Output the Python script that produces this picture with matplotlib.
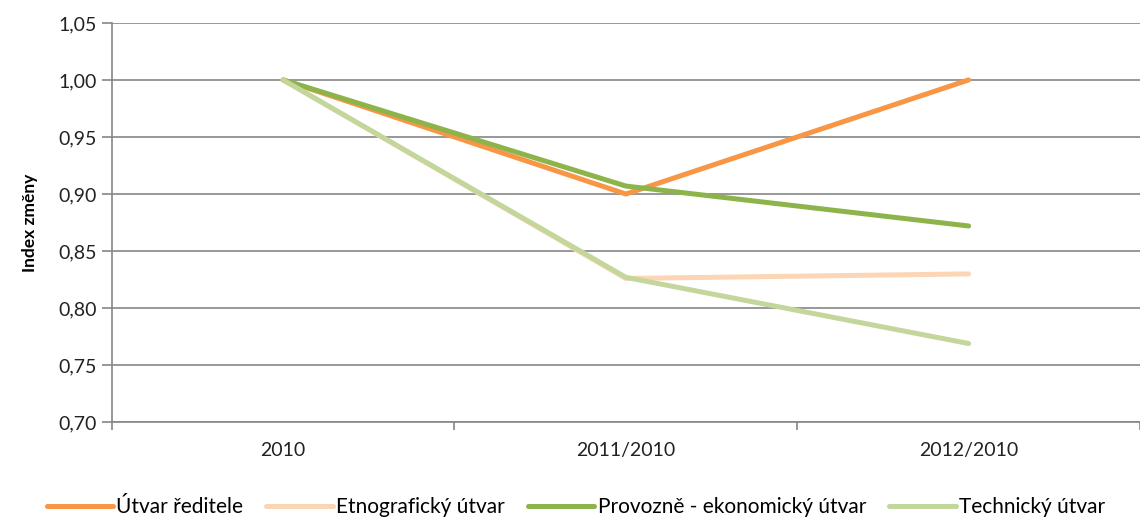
import numpy as np
import matplotlib.pyplot as plt
from matplotlib.ticker import FixedLocator, FuncFormatter

plt.rcParams['font.family'] = ['Lato', 'DejaVu Sans']

kategorie = ["2010", "2011/2010", "2012/2010"]
utvar_reditele = [1.00, 0.900, 1.000]
etnograficky = [1.00, 0.826, 0.830]
provozne = [1.00, 0.907, 0.872]
technicky = [1.00, 0.827, 0.769]

nazvy = ["Útvar ředitele", "Etnografický útvar",
         "Provozně - ekonomický útvar", "Technický útvar"]
barvy = ["#F79646", "#FCD5B5", "#8CB44A", "#C3D69B"]
rady = [utvar_reditele, etnograficky, provozne, technicky]

fig = plt.figure(figsize=(11.4, 5.2), dpi=100)
ax = fig.add_axes([0.098, 0.188, 0.902, 0.768])

x = np.arange(len(kategorie))
for r, nazev, c in zip(rady, nazvy, barvy):
    ax.plot(x, r, color=c, lw=3.6, label=nazev, solid_capstyle='round')

ax.set_xlim(-0.5, 2.5)
ax.set_ylim(0.70, 1.05)
ax.set_yticks(np.arange(0.70, 1.051, 0.05))
ax.yaxis.set_major_formatter(FuncFormatter(lambda v, p: f"{v:.2f}".replace(".", ",")))
ax.set_xticks(x)
ax.set_xticklabels(kategorie)
ax.xaxis.set_minor_locator(FixedLocator([-0.5, 0.5, 1.5, 2.5]))
ax.tick_params(axis='x', which='major', length=0, pad=14, labelsize=14, labelcolor='#222222')
ax.tick_params(axis='x', which='minor', length=6, color='#868686', width=1.2)
ax.tick_params(axis='y', length=7, color='#868686', width=1.2, labelsize=14,
               labelcolor='#222222', pad=4)

ax.grid(axis='y', color='#868686', lw=1.2)
ax.set_axisbelow(True)
for s in ['top', 'right']:
    ax.spines[s].set_visible(False)
for s in ['left', 'bottom']:
    ax.spines[s].set_color('#868686')
    ax.spines[s].set_linewidth(1.2)

ax.set_ylabel("Index změny", fontsize=12.5, fontweight='bold', labelpad=14)

fig.legend(loc='lower center', ncol=4, frameon=False, fontsize=15,
           bbox_to_anchor=(0.505, -0.03), handlelength=3.2, handletextpad=0.15,
           columnspacing=1.1)

fig.savefig("out.png", dpi=100)
